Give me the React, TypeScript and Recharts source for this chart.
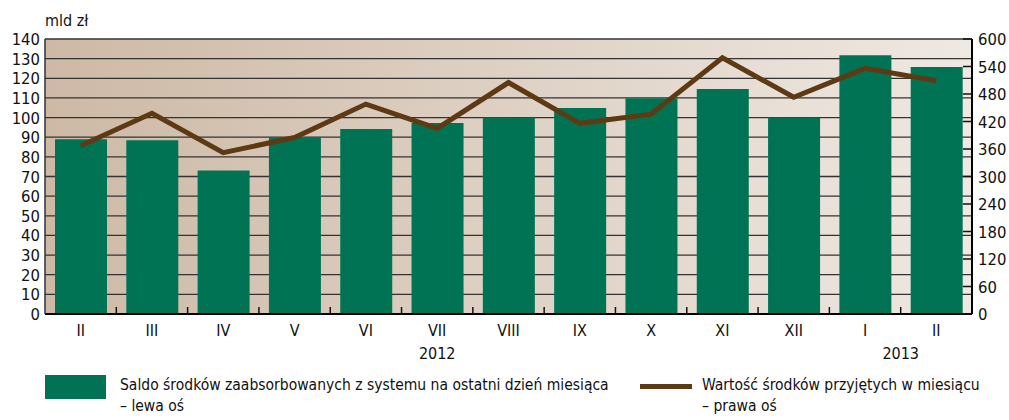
import React from 'react';
import { ComposedChart, Bar, Line, XAxis, YAxis, CartesianGrid, ReferenceLine } from 'recharts';

const months = ['II', 'III', 'IV', 'V', 'VI', 'VII', 'VIII', 'IX', 'X', 'XI', 'XII', 'I', 'II'];
const saldo = [89, 88.5, 73, 90, 94.2, 97.2, 100, 104.9, 109.8, 114.5, 100, 131.7, 125.7];
const wartosc = [367, 438, 352, 385, 458, 405, 505, 416, 436, 559, 473, 536, 509];
const leftTicks = [0, 10, 20, 30, 40, 50, 60, 70, 80, 90, 100, 110, 120, 130, 140];
const rightTicks = [0, 60, 120, 180, 240, 300, 360, 420, 480, 540, 600];
const yearLabels: { [k: number]: { text: string; shift: number } } = {
  5: { text: '2012', shift: 0 },
  11: { text: '2013', shift: 1 },
};

const data = months.map((m, i) => ({ month: m, saldo: saldo[i], wartosc: wartosc[i] }));

const FONT = '"DejaVu Sans Condensed", "DejaVu Sans", sans-serif';

const XTick = (props: any) => {
  const { x, y, payload, index } = props;
  const off = payload && payload.offset ? payload.offset : 0;
  const yl = yearLabels[index];
  return (
    <g>
      {index < months.length - 1 && (
        <line x1={x + off} x2={x + off} y1={y} y2={y - 7} stroke="#111" strokeWidth={1.5} />
      )}
      <text x={x} y={y + 22} textAnchor="middle" fontSize={16} fill="#111" fontFamily={FONT} fontStretch="condensed">
        {payload.value}
      </text>
      {yl && (
        <text x={x + yl.shift * off} y={y + 45} textAnchor="middle" fontSize={16} fill="#111" fontFamily={FONT} fontStretch="condensed">
          {yl.text}
        </text>
      )}
    </g>
  );
};

const RightTick = (props: any) => {
  const { x, y, payload } = props;
  return (
    <g>
      <line x1={x - 9} x2={x} y1={y} y2={y} stroke="#111" strokeWidth={1.5} />
      <text x={x + 6} y={y + 6} textAnchor="start" fontSize={16.5} fill="#111" fontFamily={FONT} fontStretch="condensed">
        {payload.value}
      </text>
    </g>
  );
};

const LeftTick = (props: any) => {
  const { x, y, payload } = props;
  return (
    <text x={x - 5} y={y + 6} textAnchor="end" fontSize={16.5} fill="#111" fontFamily={FONT} fontStretch="condensed">
      {payload.value}
    </text>
  );
};

const LegendBlock = () => (
  <div
    style={{
      position: 'absolute',
      left: 45,
      top: 375,
      display: 'flex',
      fontFamily: FONT,
      fontStretch: 'condensed',
      fontSize: 15.5,
      color: '#111',
      lineHeight: '21px',
    }}
  >
    <div style={{ display: 'flex', width: 595 }}>
      <div style={{ width: 61, height: 24, background: '#007354', marginRight: 14, flex: 'none' }} />
      <div>
        Saldo środków zaabsorbowanych z systemu na ostatni dzień miesiąca
        <br />– lewa oś
      </div>
    </div>
    <div style={{ display: 'flex' }}>
      <div style={{ width: 52, height: 5, background: '#5e3a14', marginTop: 9, marginRight: 10, flex: 'none' }} />
      <div>
        Wartość środków przyjętych w miesiącu
        <br />– prawa oś
      </div>
    </div>
  </div>
);

export default function App() {
  return (
    <div style={{ position: 'absolute', left: 0, top: 0, width: 1009, height: 420, background: '#fff' }}>
      <div style={{ position: 'absolute', left: 45, top: 11, fontFamily: FONT, fontStretch: 'condensed', fontSize: 16, color: '#111' }}>mld zł</div>
      <ComposedChart
        width={1009}
        height={420}
        data={data}
        margin={{ top: 39, right: 0, bottom: 66, left: 0 }}
        barCategoryGap={0}
      >
        <defs>
          <linearGradient id="bgGrad" x1="0" y1="0" x2="1" y2="0">
            <stop offset="0%" stopColor="#cdb9a5" />
            <stop offset="100%" stopColor="#efe9e3" />
          </linearGradient>
        </defs>
        <CartesianGrid
          yAxisId="left"
          vertical={false}
          fill="url(#bgGrad)"
          stroke="#333"
          strokeWidth={1.3}
          fillOpacity={1}
        />
        <XAxis
          dataKey="month"
          height={40}
          axisLine={{ stroke: '#000', strokeWidth: 2 }}
          tickLine={false}
          tickSize={0}
          tickMargin={0}
          tick={<XTick />}
          interval={0}
        />
        <YAxis
          yAxisId="left"
          orientation="left"
          width={45}
          domain={[0, 140]}
          ticks={leftTicks}
          interval={0}
          axisLine={{ stroke: '#333', strokeWidth: 1.5 }}
          tickLine={false}
          tickSize={0}
          tickMargin={0}
          tick={<LeftTick />}
        />
        <YAxis
          yAxisId="right"
          orientation="right"
          width={37}
          domain={[0, 600]}
          ticks={rightTicks}
          interval={0}
          axisLine={{ stroke: '#000', strokeWidth: 2 }}
          tickLine={false}
          tickSize={0}
          tickMargin={0}
          tick={<RightTick />}
        />
        <ReferenceLine yAxisId="left" x="XII" position="end" stroke="#f7f3ef" strokeWidth={2} />
        <Bar yAxisId="left" dataKey="saldo" fill="#007354" barSize={52} isAnimationActive={false} />
        <Line
          yAxisId="right"
          dataKey="wartosc"
          stroke="#5e3a14"
          strokeWidth={5}
          dot={false}
          activeDot={false}
          type="linear"
          isAnimationActive={false}
        />
      </ComposedChart>
      <LegendBlock />
    </div>
  );
}
